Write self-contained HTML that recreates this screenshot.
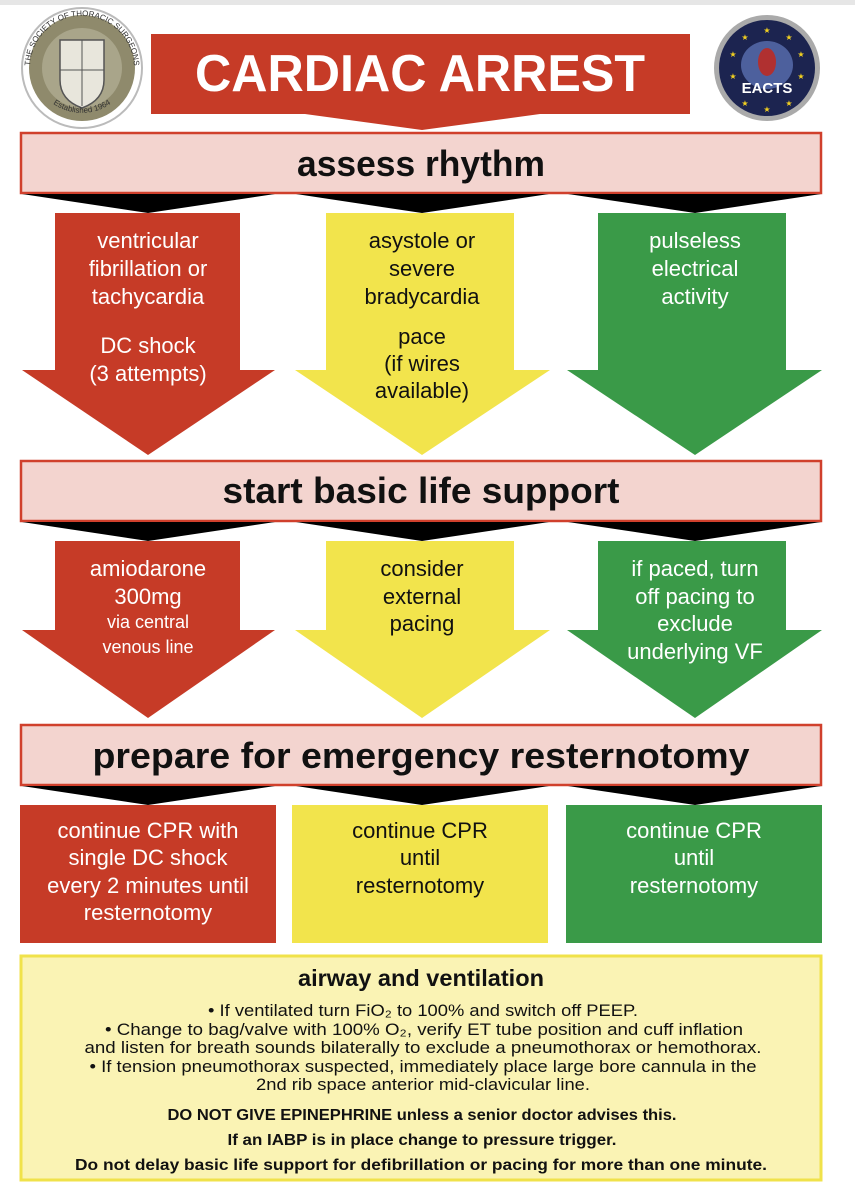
<!DOCTYPE html>
<html><head><meta charset="utf-8"><style>
html,body{margin:0;padding:0;background:#fff;width:855px;height:1200px;overflow:hidden}
svg{display:block}
text{font-family:"Liberation Sans",sans-serif;text-anchor:middle}
</style></head><body>
<svg width="855" height="1200" viewBox="0 0 855 1200" xmlns="http://www.w3.org/2000/svg">
<rect x="0" y="0" width="855" height="5" fill="#e6e6e6"/>
<!-- left logo -->
<circle cx="82" cy="68" r="60" fill="#fff" stroke="#bbb" stroke-width="2"/>
<circle cx="82" cy="68" r="53" fill="#8f8a6c"/>
<circle cx="82" cy="68" r="40" fill="#a9a58a"/>
<path d="M60 40 L104 40 L104 80 Q104 100 82 108 Q60 100 60 80 Z" fill="#e8e6dc" stroke="#555" stroke-width="1.5"/>
<line x1="82" y1="40" x2="82" y2="106" stroke="#555"/><line x1="60" y1="70" x2="104" y2="70" stroke="#555"/>
<defs><path id="arcT" d="M30 68 A52 52 0 0 1 134 68"/><path id="arcB" d="M40 90 A50 50 0 0 0 124 90"/></defs>
<text font-size="8" fill="#333"><textPath href="#arcT" startOffset="50%">THE SOCIETY OF THORACIC SURGEONS</textPath></text>
<text font-size="8" fill="#333"><textPath href="#arcB" startOffset="50%">Established 1964</textPath></text>
<!-- right logo -->
<circle cx="767" cy="68" r="53" fill="#aaa"/>
<circle cx="767" cy="68" r="48" fill="#1c2450"/>
<ellipse cx="767" cy="65" rx="26" ry="24" fill="#5a6fb0" opacity="0.8"/>
<ellipse cx="767" cy="62" rx="9" ry="14" fill="#b03030"/>
<text x="767" y="93" font-size="15" font-weight="bold" fill="#fff">EACTS</text>
<g fill="#f2d020" font-size="8"><text x="767" y="33">★</text><text x="745" y="40">★</text><text x="789" y="40">★</text><text x="733" y="57">★</text><text x="801" y="57">★</text><text x="733" y="79">★</text><text x="801" y="79">★</text><text x="745" y="106">★</text><text x="789" y="106">★</text><text x="767" y="112">★</text></g>
<!-- title -->
<path d="M151 34 H690 V114 H540 L422 130 L305 114 H151 Z" fill="#c63b27"/>
<text x="420" y="91" font-size="52" font-weight="bold" fill="#fff" textLength="450" lengthAdjust="spacingAndGlyphs">CARDIAC ARREST</text>
<!-- band 1 -->
<rect x="21" y="133" width="800" height="60" fill="#f3d4cf" stroke="#d0402c" stroke-width="2.5"/>
<text x="421" y="176" font-size="36" font-weight="bold" fill="#111" textLength="248" lengthAdjust="spacingAndGlyphs">assess rhythm</text>
<g fill="#000"><path d="M22 194 H275 L148 213 Z"/><path d="M296 194 H549 L422 213 Z"/><path d="M568 194 H821 L695 213 Z"/></g>
<!-- row1 arrows -->
<path d="M55 213 H240 V370 H275 L148 455 L22 370 H55 Z" fill="#c63b27"/>
<path d="M326 213 H514 V370 H550 L422 455 L295 370 H326 Z" fill="#f2e44c"/>
<path d="M598 213 H786 V370 H822 L695 455 L567 370 H598 Z" fill="#3a9a48"/>
<g font-size="22" fill="#fff"><text x="148" y="248">ventricular</text><text x="148" y="276">fibrillation or</text><text x="148" y="304">tachycardia</text><text x="148" y="353">DC shock</text><text x="148" y="381">(3 attempts)</text></g>
<g font-size="22" fill="#111"><text x="422" y="248">asystole or</text><text x="422" y="276">severe</text><text x="422" y="304">bradycardia</text><text x="422" y="344">pace</text><text x="422" y="371">(if wires</text><text x="422" y="398">available)</text></g>
<g font-size="22" fill="#fff"><text x="695" y="248">pulseless</text><text x="695" y="276">electrical</text><text x="695" y="304">activity</text></g>
<!-- band 2 -->
<rect x="21" y="461" width="800" height="60" fill="#f3d4cf" stroke="#d0402c" stroke-width="2.5"/>
<text x="421" y="503" font-size="36" font-weight="bold" fill="#111" textLength="397" lengthAdjust="spacingAndGlyphs">start basic life support</text>
<g fill="#000"><path d="M22 522 H275 L148 541 Z"/><path d="M296 522 H549 L422 541 Z"/><path d="M568 522 H821 L695 541 Z"/></g>
<!-- row2 arrows -->
<path d="M55 541 H240 V630 H275 L148 718 L22 630 H55 Z" fill="#c63b27"/>
<path d="M326 541 H514 V630 H550 L422 718 L295 630 H326 Z" fill="#f2e44c"/>
<path d="M598 541 H786 V630 H822 L695 718 L567 630 H598 Z" fill="#3a9a48"/>
<g fill="#fff"><text x="148" y="576" font-size="22">amiodarone</text><text x="148" y="604" font-size="22">300mg</text><text x="148" y="628" font-size="18">via central</text><text x="148" y="653" font-size="18">venous line</text></g>
<g font-size="22" fill="#111"><text x="422" y="576">consider</text><text x="422" y="604">external</text><text x="422" y="631">pacing</text></g>
<g font-size="22" fill="#fff"><text x="695" y="576">if paced, turn</text><text x="695" y="604">off pacing to</text><text x="695" y="631">exclude</text><text x="695" y="659">underlying VF</text></g>
<!-- band 3 -->
<rect x="21" y="725" width="800" height="60" fill="#f3d4cf" stroke="#d0402c" stroke-width="2.5"/>
<text x="421" y="768" font-size="36" font-weight="bold" fill="#111" textLength="657" lengthAdjust="spacingAndGlyphs">prepare for emergency resternotomy</text>
<g fill="#000"><path d="M22 786 H275 L148 805 Z"/><path d="M296 786 H549 L422 805 Z"/><path d="M568 786 H821 L695 805 Z"/></g>
<!-- row3 boxes -->
<rect x="20" y="805" width="256" height="138" fill="#c63b27"/>
<rect x="292" y="805" width="256" height="138" fill="#f2e44c"/>
<rect x="566" y="805" width="256" height="138" fill="#3a9a48"/>
<g font-size="22" fill="#fff"><text x="148" y="838">continue CPR with</text><text x="148" y="865">single DC shock</text><text x="148" y="893">every 2 minutes until</text><text x="148" y="920">resternotomy</text></g>
<g font-size="22" fill="#111"><text x="420" y="838">continue CPR</text><text x="420" y="865">until</text><text x="420" y="893">resternotomy</text></g>
<g font-size="22" fill="#fff"><text x="694" y="838">continue CPR</text><text x="694" y="865">until</text><text x="694" y="893">resternotomy</text></g>
<!-- bottom box -->
<rect x="21" y="956" width="800" height="224" fill="#faf3b4" stroke="#f0e24a" stroke-width="3"/>
<text x="421" y="986" font-size="23" font-weight="bold" fill="#111" textLength="246" lengthAdjust="spacingAndGlyphs">airway and ventilation</text>
<g font-size="17" fill="#111" lengthAdjust="spacingAndGlyphs">
<text x="423" y="1016" textLength="430" lengthAdjust="spacingAndGlyphs">• If ventilated turn FiO₂ to 100% and switch off PEEP.</text>
<text x="424" y="1035" textLength="638" lengthAdjust="spacingAndGlyphs">• Change to bag/valve with 100% O₂, verify ET tube position and cuff inflation</text>
<text x="423" y="1053" textLength="677" lengthAdjust="spacingAndGlyphs">and listen for breath sounds bilaterally to exclude a pneumothorax or hemothorax.</text>
<text x="423" y="1072" textLength="667" lengthAdjust="spacingAndGlyphs">• If tension pneumothorax suspected, immediately place large bore cannula in the</text>
<text x="423" y="1090" textLength="334" lengthAdjust="spacingAndGlyphs">2nd rib space anterior mid-clavicular line.</text></g>
<g font-size="16" font-weight="bold" fill="#111">
<text x="422" y="1120" textLength="509" lengthAdjust="spacingAndGlyphs">DO NOT GIVE EPINEPHRINE unless a senior doctor advises this.</text>
<text x="422" y="1145" textLength="389" lengthAdjust="spacingAndGlyphs">If an IABP is in place change to pressure trigger.</text>
<text x="421" y="1170" textLength="692" lengthAdjust="spacingAndGlyphs">Do not delay basic life support for defibrillation or pacing for more than one minute.</text></g>
</svg>
</body></html>
